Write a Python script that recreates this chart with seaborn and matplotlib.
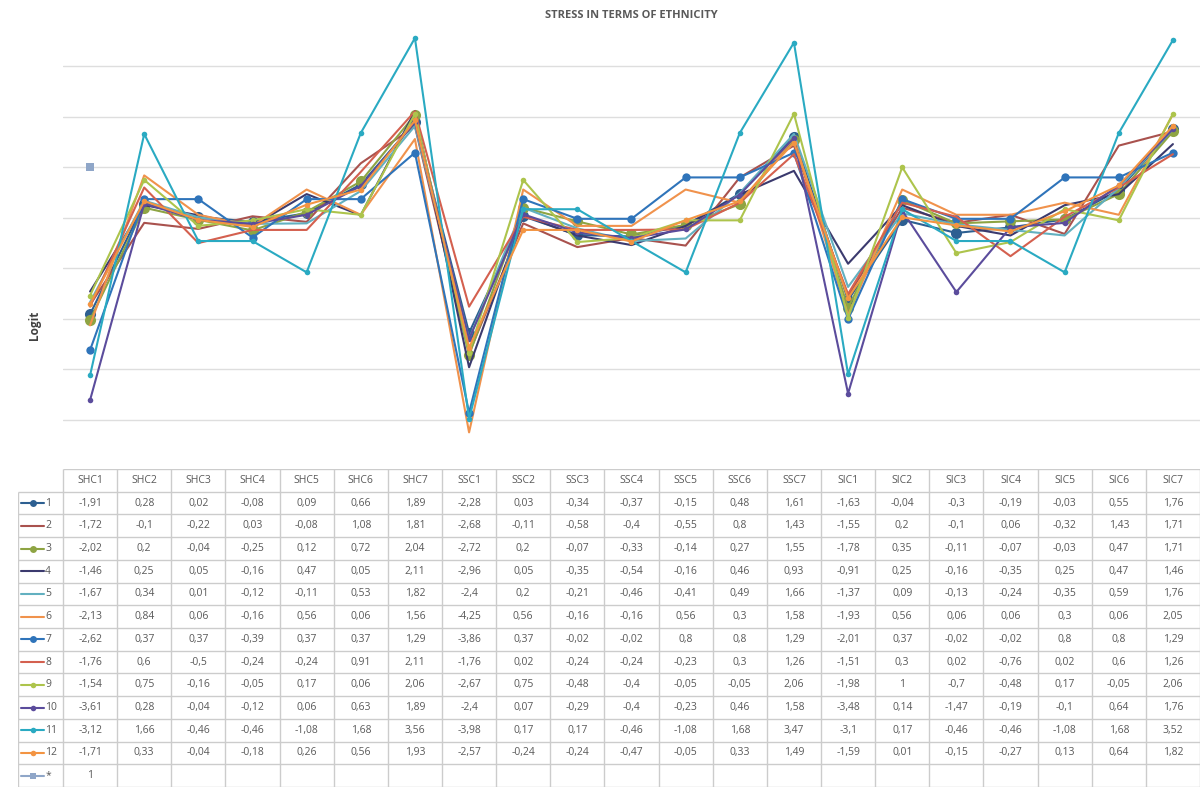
import numpy as np
import pandas as pd
import seaborn as sns
import matplotlib.pyplot as plt

# categories along the x axis
items = ['SHC1', 'SHC2', 'SHC3', 'SHC4', 'SHC5', 'SHC6', 'SHC7',
         'SSC1', 'SSC2', 'SSC3', 'SSC4', 'SSC5', 'SSC6', 'SSC7',
         'SIC1', 'SIC2', 'SIC3', 'SIC4', 'SIC5', 'SIC6', 'SIC7']

# logit values per group
g1 = [-1.91, 0.28, 0.02, -0.08, 0.09, 0.66, 1.89, -2.28, 0.03, -0.34, -0.37, -0.15, 0.48, 1.61, -1.63, -0.04, -0.3, -0.19, -0.03, 0.55, 1.76]
g2 = [-1.72, -0.1, -0.22, 0.03, -0.08, 1.08, 1.81, -2.68, -0.11, -0.58, -0.4, -0.55, 0.8, 1.43, -1.55, 0.2, -0.1, 0.06, -0.32, 1.43, 1.71]
g3 = [-2.02, 0.2, -0.04, -0.25, 0.12, 0.72, 2.04, -2.72, 0.2, -0.07, -0.33, -0.14, 0.27, 1.55, -1.78, 0.35, -0.11, -0.07, -0.03, 0.47, 1.71]
g4 = [-1.46, 0.25, 0.05, -0.16, 0.47, 0.05, 2.11, -2.96, 0.05, -0.35, -0.54, -0.16, 0.46, 0.93, -0.91, 0.25, -0.16, -0.35, 0.25, 0.47, 1.46]
g5 = [-1.67, 0.34, 0.01, -0.12, -0.11, 0.53, 1.82, -2.4, 0.2, -0.21, -0.46, -0.41, 0.49, 1.66, -1.37, 0.09, -0.13, -0.24, -0.35, 0.59, 1.76]
g6 = [-2.13, 0.84, 0.06, -0.16, 0.56, 0.06, 1.56, -4.25, 0.56, -0.16, -0.16, 0.56, 0.3, 1.58, -1.93, 0.56, 0.06, 0.06, 0.3, 0.06, 2.05]
g7 = [-2.62, 0.37, 0.37, -0.39, 0.37, 0.37, 1.29, -3.86, 0.37, -0.02, -0.02, 0.8, 0.8, 1.29, -2.01, 0.37, -0.02, -0.02, 0.8, 0.8, 1.29]
g8 = [-1.76, 0.6, -0.5, -0.24, -0.24, 0.91, 2.11, -1.76, 0.02, -0.24, -0.24, -0.23, 0.3, 1.26, -1.51, 0.3, 0.02, -0.76, 0.02, 0.6, 1.26]
g9 = [-1.54, 0.75, -0.16, -0.05, 0.17, 0.06, 2.06, -2.67, 0.75, -0.48, -0.4, -0.05, -0.05, 2.06, -1.98, 1, -0.7, -0.48, 0.17, -0.05, 2.06]
g10 = [-3.61, 0.28, -0.04, -0.12, 0.06, 0.63, 1.89, -2.4, 0.07, -0.29, -0.4, -0.23, 0.46, 1.58, -3.48, 0.14, -1.47, -0.19, -0.1, 0.64, 1.76]
g11 = [-3.12, 1.66, -0.46, -0.46, -1.08, 1.68, 3.56, -3.98, 0.17, 0.17, -0.46, -1.08, 1.68, 3.47, -3.1, 0.17, -0.46, -0.46, -1.08, 1.68, 3.52]
g12 = [-1.71, 0.33, -0.04, -0.18, 0.26, 0.56, 1.93, -2.57, -0.24, -0.24, -0.47, -0.05, 0.33, 1.49, -1.59, 0.01, -0.15, -0.27, 0.13, 0.64, 1.82]
g_star = [1]

group_names = ['1', '2', '3', '4', '5', '6', '7', '8', '9', '10', '11', '12', '*']
group_values = [g1, g2, g3, g4, g5, g6, g7, g8, g9, g10, g11, g12, g_star]

colors = ['#2d5f91', '#a9524e', '#8ea443', '#3b3a6e', '#62b0c0', '#f0924c',
          '#2f74ba', '#d4604f', '#adc44c', '#5b4c9c', '#2aaac2', '#f39442', '#8fa6c8']
markers = ['o', None, 'o', None, None, None, 'o', None, 'o', 'o', 'o', 'o', 's']
msizes = [8, 0, 8, 0, 0, 0, 6, 0, 4, 4, 4, 4, 6]

sns.set_style('white')
plt.rcParams['font.family'] = ['Open Sans', 'DejaVu Sans']

fig = plt.figure(figsize=(12.03, 7.98), dpi=100)
W, H = 1203, 798

# main plot area
ax = fig.add_axes([63 / W, 1 - 445 / H, (1200 - 63) / W, 415 / H])
for name, vals, c, m, ms in zip(group_names, group_values, colors, markers, msizes):
    df = pd.DataFrame({'pos': np.arange(len(vals)), 'logit': vals})
    sns.lineplot(data=df, x='pos', y='logit', ax=ax, color=c, lw=1.5,
                 marker=m, markersize=ms, markeredgewidth=0)

ax.set_xlim(-0.5, len(items) - 0.5)
ax.set_ylim(-4.5, 3.72)
ax.set_yticks(np.arange(-4, 4))
ax.set_xticks([])
ax.yaxis.grid(True, color='#dedede', lw=1)
ax.set_axisbelow(True)
ax.tick_params(left=False, labelleft=False)
for s in ax.spines.values():
    s.set_visible(False)
ax.set_xlabel('')
ax.set_ylabel('')

fig.text(631 / W, 1 - 16 / H, 'STRESS IN TERMS OF ETHNICITY', ha='center', va='center',
         fontsize=8, fontweight='bold', color='#595959')
fig.text(35 / W, 1 - 325 / H, 'Logit', ha='center', va='center', rotation=90,
         fontsize=8.5, fontweight='bold', color='#404040')

# data table below the plot
col_w = 54.1
lab_w = 45 / col_w
tax = fig.add_axes([18 / W, 1 - 787 / H, (1200 - 18) / W, (787 - 469) / H])
n_rows = len(group_names) + 1
tax.set_xlim(-0.5 - lab_w, len(items) - 0.5)
tax.set_ylim(n_rows, 0)
tax.axis('off')

line_c = '#cccccc'
txt_c = '#595959'
# horizontal lines
tax.hlines(0, -0.5, len(items) - 0.5, color=line_c, lw=1)
tax.hlines(np.arange(1, n_rows + 1), -0.5 - lab_w, len(items) - 0.5, color=line_c, lw=1)
# vertical lines
tax.vlines(np.arange(len(items) + 1) - 0.5, 0, n_rows, color=line_c, lw=1)
tax.vlines(-0.5 - lab_w, 1, n_rows, color=line_c, lw=1)

for j, it in enumerate(items):
    tax.text(j, 0.5, it, ha='center', va='center', fontsize=7.5, color=txt_c)

for i, (name, vals, c, m, ms) in enumerate(zip(group_names, group_values, colors, markers, msizes)):
    r = i + 1.5
    kx = -0.5 - lab_w
    tax.plot([kx + 0.06, kx + 0.27, kx + 0.48], [r, r, r], color=c, lw=1.5,
             marker=m, markersize=min(ms, 5), markevery=[1] if m else None,
             markeredgewidth=0)
    tax.text(kx + 0.5, r, name, ha='left', va='center', fontsize=7.5, color=txt_c)
    for j, v in enumerate(vals):
        s = f'{v:g}'.replace('.', ',')
        tax.text(j, r, s, ha='center', va='center', fontsize=7.5, color=txt_c)

fig.savefig('out.png', dpi=100)
